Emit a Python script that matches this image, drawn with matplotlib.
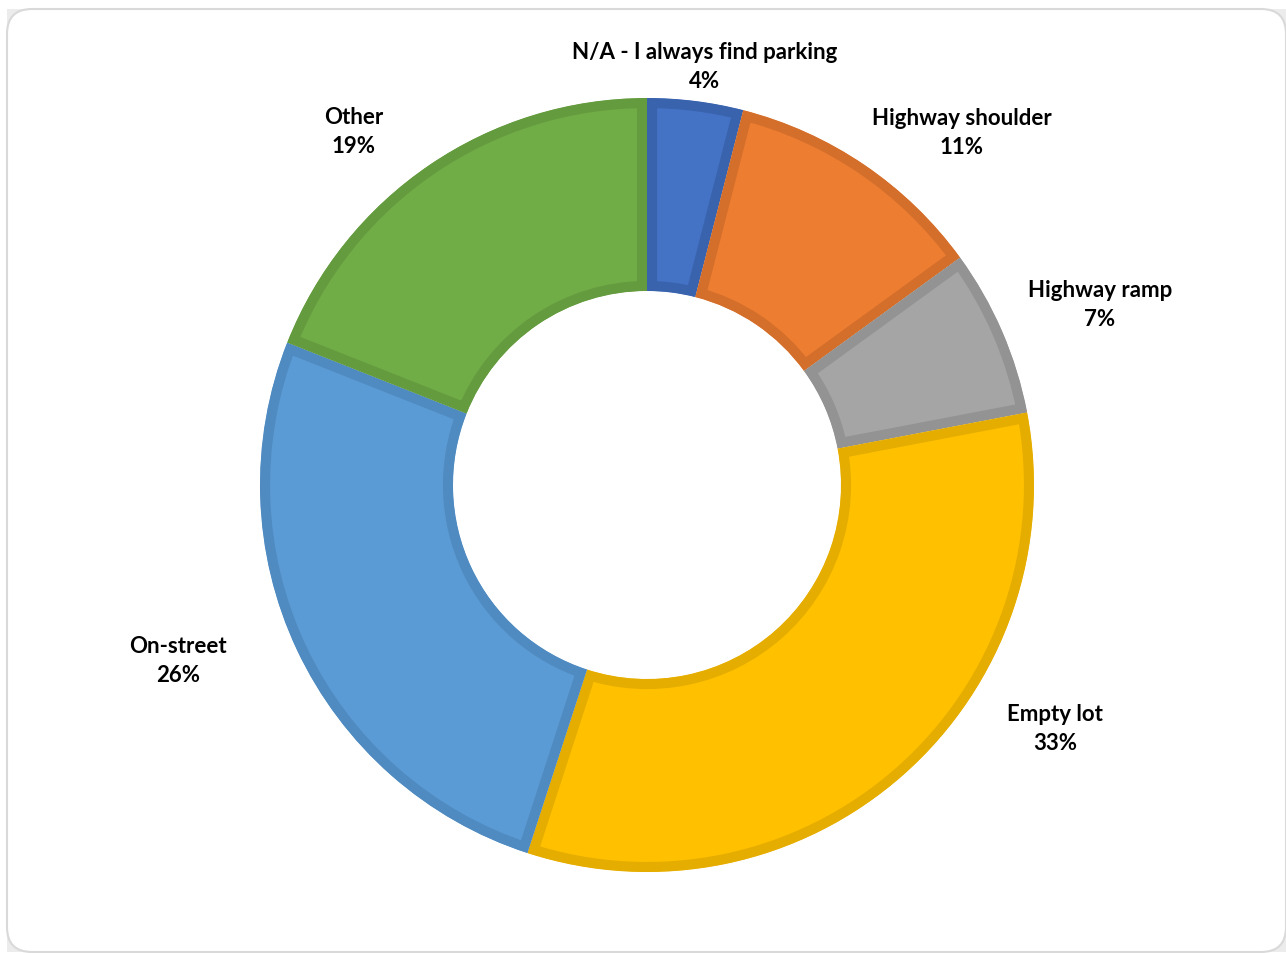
import matplotlib
matplotlib.use("Agg")
import matplotlib.pyplot as plt
from matplotlib.patches import FancyBboxPatch, Rectangle

# Survey answers: where people park when no regular space is available
categories = ["N/A - I always find parking", "Highway shoulder", "Highway ramp",
              "Empty lot", "On-street", "Other"]
shares = [4, 11, 7, 33, 26, 19]
fill_colors = ["#4472C4", "#ED7D31", "#A5A5A5", "#FFC000", "#5B9BD5", "#70AD47"]
edge_colors = ["#3A63AE", "#D46F2B", "#939393", "#E5AD00", "#4F8BC1", "#659B3F"]

W, H = 1286, 954
fig = plt.figure(figsize=(W / 100, H / 100), dpi=100)
ax = fig.add_axes([0, 0, 1, 1])
ax.set_axis_off()

# card background with rounded corners
ax.add_patch(Rectangle((7, 1), 1279, 943, facecolor="#ececec", edgecolor="none", zorder=0))
ax.add_patch(FancyBboxPatch((7 + 25, 1 + 25), 1279 - 50, 943 - 50,
                            boxstyle="round,pad=25", facecolor="white",
                            edgecolor="#d9d9d9", linewidth=1.5, zorder=1))

cx, cy = 647, H - 486
R_out, ring = 387, 193
wedges, _ = ax.pie(shares, radius=R_out, center=(cx, cy), startangle=90,
                   counterclock=False, colors=fill_colors,
                   wedgeprops=dict(width=ring, linewidth=0))
for w, ec in zip(wedges, edge_colors):
    w.set_zorder(2)
    # inner border: stroke clipped to the wedge's own outline
    w.set_edgecolor(ec)
    w.set_linewidth(14.5)
    w.set_clip_on(True)
    w.set_clip_path(w)

# label positions (pixel coordinates, y measured from the top)
label_xy = [(705, 67), (962, 133), (1100, 305), (1055, 729), (178, 661), (354, 132)]
for name, val, (lx, ly) in zip(categories, shares, label_xy):
    ax.text(lx, H - ly, f"{name}\n{val}%", ha="center", va="center",
            fontsize=16, fontweight="bold", family=["Lato", "DejaVu Sans"],
            linespacing=1.42, color="black", zorder=3)

ax.set_xlim(0, W)
ax.set_ylim(0, H)
ax.set_aspect("equal")
fig.savefig("out.png", dpi=100)
